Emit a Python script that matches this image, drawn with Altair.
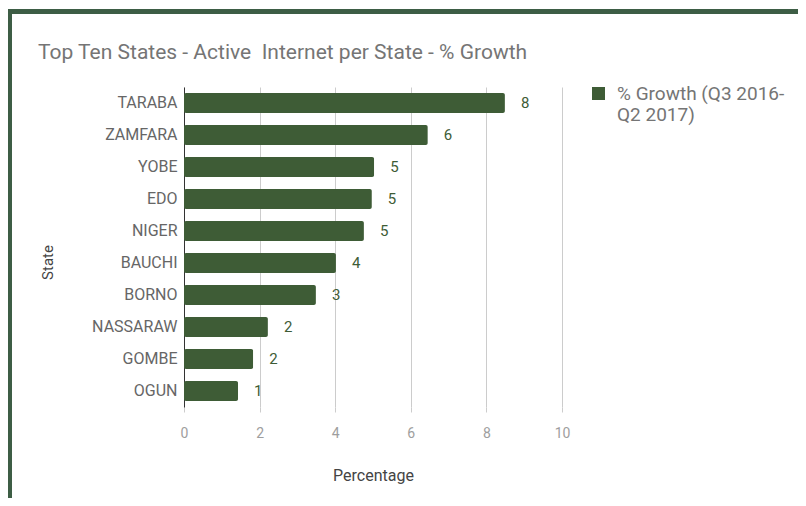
import altair as alt
import pandas as pd

states = ["TARABA", "ZAMFARA", "YOBE", "EDO", "NIGER", "BAUCHI", "BORNO", "NASSARAW", "GOMBE", "OGUN"]
growth = [8.49, 6.45, 5.03, 4.97, 4.76, 4.02, 3.49, 2.22, 1.83, 1.43]
series_name = "% Growth (Q3 2016-Q2 2017)"
x_ticks = [0, 2, 4, 6, 8, 10]

GREEN = "#3e5c36"
FRAME = "#3d5d45"
FONT = "Roboto"

df = pd.DataFrame({"State": states, "Percentage": growth, "series": [series_name] * len(states)})
frame_df = pd.DataFrame({"k": [0]})

W, H = 378, 320
PL, PT = 176, 79
TOTAL_W, TOTAL_H = 790, 490

base = alt.Chart(df)

bars = base.mark_bar(cornerRadius=2).encode(
    y=alt.Y("State:N", sort=states, title="State",
            scale=alt.Scale(paddingInner=0.375, paddingOuter=0.1875),
            axis=alt.Axis(ticks=False, domain=True, domainColor="#333333", labelPadding=7,
                          labelFontSize=16, labelColor="#666666", labelFont=FONT,
                          titleFont=FONT, titleFontSize=15, titleColor="#444444",
                          titleFontWeight="normal", titleX=-137, titleY=175,
                          titleAngle=-90, titleBaseline="middle", titleAlign="center", grid=False)),
    x=alt.X("Percentage:Q", title="Percentage",
            scale=alt.Scale(domain=[0, 10], nice=False),
            axis=alt.Axis(values=x_ticks, domain=False, ticks=True, tickSize=5, tickColor="#cccccc",
                          labelPadding=14, labelFontSize=14, labelColor="#9e9e9e", labelFont=FONT,
                          labelFlush=False,
                          gridColor="#cccccc", titleFont=FONT, titleFontSize=16, titleColor="#444444",
                          titleFontWeight="normal", titleY=68, titleBaseline="middle")),
    color=alt.Color("series:N", scale=alt.Scale(range=[GREEN]),
                    legend=alt.Legend(title=None, orient="none", legendX=405, legendY=-3,
                                      symbolType="square", symbolSize=169, symbolStrokeWidth=0,
                                      labelFont=FONT, labelFontSize=19, labelColor="#757575",
                                      labelLimit=300, labelOffset=9,
                                      labelExpr="['% Growth (Q3 2016-', 'Q2 2017)']")),
)

labels = base.mark_text(align="left", baseline="middle", dx=16, fontSize=15, font=FONT, color=GREEN).encode(
    y=alt.Y("State:N", sort=states),
    x=alt.X("Percentage:Q"),
    text=alt.Text("Percentage:Q", format=".0f"),
)

frame_top = alt.Chart(frame_df).mark_rect(color=FRAME).encode(
    x=alt.value(-PL), x2=alt.value(TOTAL_W - PL + 10), y=alt.value(-PT + 1), y2=alt.value(-PT + 6)
)
frame_left = alt.Chart(frame_df).mark_rect(color=FRAME).encode(
    x=alt.value(-PL - 1), x2=alt.value(-PL + 4), y=alt.value(-PT + 1), y2=alt.value(TOTAL_H - PT + 10)
)

chart = alt.layer(frame_top, frame_left, bars, labels).properties(
    width=W, height=H,
    autosize=alt.AutoSizeParams(type="none"),
    padding={"left": PL, "top": PT, "right": TOTAL_W - PL - W, "bottom": TOTAL_H - PT - H},
    title=alt.TitleParams("Top Ten States - Active\u00a0 Internet per State - % Growth", anchor="start",
                          frame="group", font=FONT, fontSize=21, fontWeight="normal",
                          color="#757575", dx=-146, offset=0, dy=54),
    background="white",
).configure_view(stroke=None)

chart.save("out.html", embed_options={"renderer": "svg", "actions": False})
